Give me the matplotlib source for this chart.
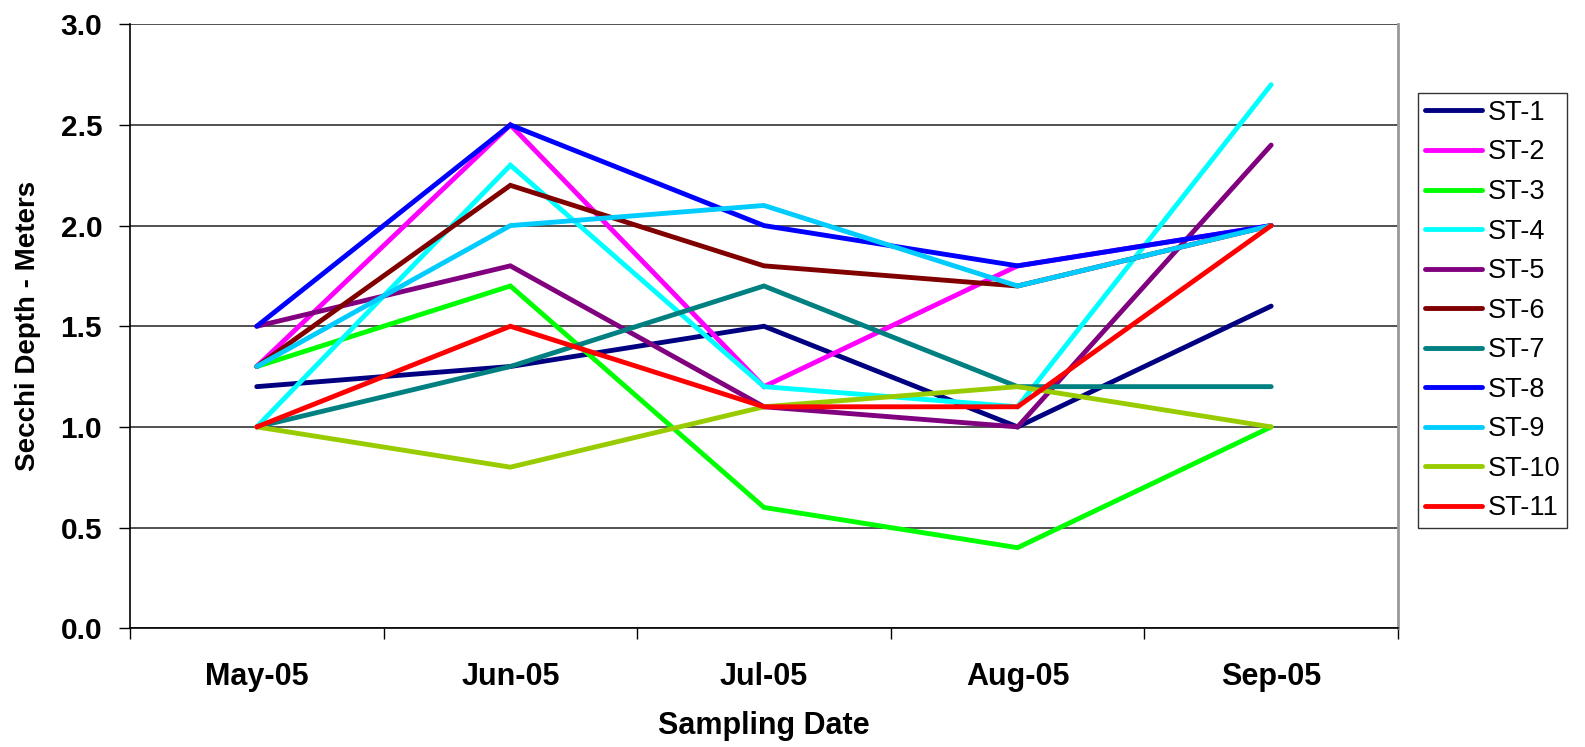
import matplotlib.pyplot as plt

plt.rcParams["font.family"] = ["Liberation Sans", "DejaVu Sans"]

dates = ["May-05", "Jun-05", "Jul-05", "Aug-05", "Sep-05"]

st1 = [1.2, 1.3, 1.5, 1.0, 1.6]
st2 = [1.3, 2.5, 1.2, 1.8, 2.0]
st3 = [1.3, 1.7, 0.6, 0.4, 1.0]
st4 = [1.0, 2.3, 1.2, 1.1, 2.7]
st5 = [1.5, 1.8, 1.1, 1.0, 2.4]
st6 = [1.3, 2.2, 1.8, 1.7, 2.0]
st7 = [1.0, 1.3, 1.7, 1.2, 1.2]
st8 = [1.5, 2.5, 2.0, 1.8, 2.0]
st9 = [1.3, 2.0, 2.1, 1.7, 2.0]
st10 = [1.0, 0.8, 1.1, 1.2, 1.0]
st11 = [1.0, 1.5, 1.1, 1.1, 2.0]

series = [st1, st2, st3, st4, st5, st6, st7, st8, st9, st10, st11]
labels = ["ST-%d" % (i + 1) for i in range(len(series))]
colors = ["#000080", "#FF00FF", "#00FF00", "#00FFFF", "#800080", "#800000",
          "#008080", "#0000FF", "#00CCFF", "#99CC00", "#FF0000"]

fig = plt.figure(figsize=(15.85, 7.47), dpi=100)
ax = fig.add_axes([0.082, 0.159, 0.8, 0.8085])

x = list(range(len(dates)))
for vals, lab, col in zip(series, labels, colors):
    ax.plot(x, vals, color=col, lw=3.5, label=lab, solid_capstyle="round",
            solid_joinstyle="miter")

ax.set_xlim(-0.5, len(dates) - 0.5)
ax.set_ylim(0, 3.0)
ax.set_yticks([0, 0.5, 1.0, 1.5, 2.0, 2.5, 3.0])
ax.set_yticklabels(["%.1f" % v for v in ax.get_yticks()], fontsize=21.5, fontweight="bold")
ax.set_xticks(x)
ax.set_xticklabels(dates, fontsize=22, fontweight="bold")
ax.set_xticks([i - 0.5 for i in range(len(dates) + 1)], minor=True)
ax.tick_params(axis="x", which="major", length=0, pad=24)
ax.tick_params(axis="x", which="minor", length=8, width=1, direction="out")
ax.tick_params(axis="y", length=8, width=1, direction="out", pad=12)

ax.yaxis.grid(True, color="#333333", lw=1.2)
ax.set_axisbelow(True)
ax.spines["right"].set_color("#999999")
ax.spines["right"].set_linewidth(2)
ax.spines["top"].set_visible(False)
ax.spines["left"].set_linewidth(1.2)
ax.spines["bottom"].set_linewidth(1.2)

ax.set_xlabel("Sampling Date", fontsize=22, fontweight="bold", labelpad=14)
ax.set_ylabel("Secchi Depth - Meters", fontsize=20, fontweight="bold", labelpad=14)

leg = ax.legend(loc="upper left", bbox_to_anchor=(1.016, 0.886), fontsize=19.5,
                frameon=True, fancybox=False, edgecolor="black", handlelength=2.1,
                handletextpad=0.2, labelspacing=0.5, borderpad=0.25,
                borderaxespad=0)
leg.get_frame().set_linewidth(1)

fig.savefig("out.png", dpi=100)
